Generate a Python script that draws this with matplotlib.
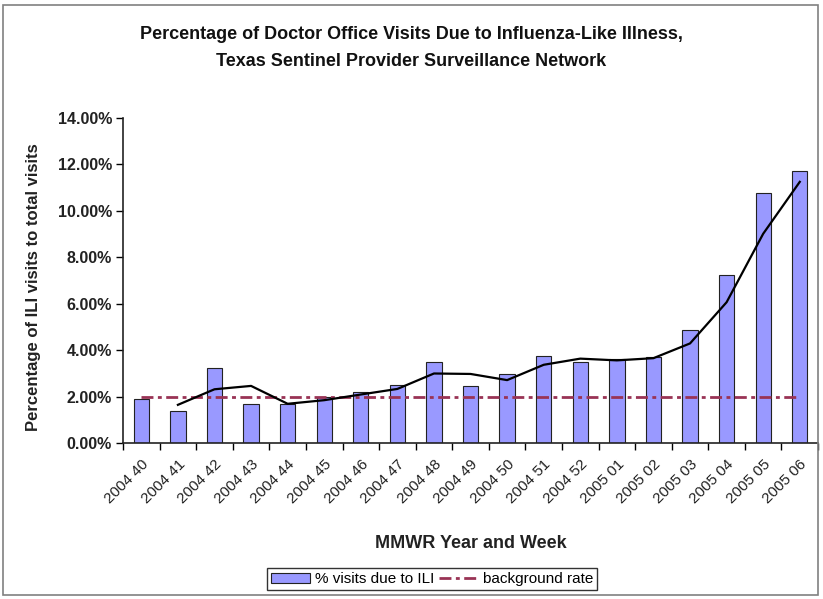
import numpy as np
import matplotlib
matplotlib.use("Agg")
import matplotlib.pyplot as plt
from matplotlib.patches import Rectangle

weeks = ["2004 40", "2004 41", "2004 42", "2004 43", "2004 44", "2004 45", "2004 46",
         "2004 47", "2004 48", "2004 49", "2004 50", "2004 51", "2004 52", "2005 01",
         "2005 02", "2005 03", "2005 04", "2005 05", "2005 06"]
ili_pct = [1.89, 1.40, 3.23, 1.69, 1.69, 2.00, 2.18, 2.48, 3.51, 2.44, 2.98, 3.76,
           3.51, 3.61, 3.70, 4.88, 7.25, 10.78, 11.72]
background_rate = [2.0] * len(weeks)
yticks = [0, 2, 4, 6, 8, 10, 12, 14]

plt.rcParams['font.family'] = ['Liberation Sans', 'DejaVu Sans']

fig = plt.figure(figsize=(8.23, 5.99), dpi=100)
fig.patches.append(Rectangle((0.004, 0.007), 0.99, 0.985, transform=fig.transFigure,
                             fill=False, edgecolor='#808080', lw=1.2))

ax = fig.add_axes([0.1495, 0.2604, 0.8445, 0.5426])
x = np.arange(len(weeks))
bars = ax.bar(x, ili_pct, width=0.42, color='#9999FF', edgecolor='#222222', lw=0.8,
              label='% visits due to ILI', zorder=2)
ma = np.convolve(ili_pct, [0.5, 0.5], mode='valid')
ax.plot(x[1:], ma, color='black', lw=1.6, zorder=4)
bl, = ax.plot(x, background_rate, color='#993355', lw=2.0, dashes=(4.3, 1.6, 1.4, 1.6),
              label='background rate', zorder=3)

ax.set_xlim(-0.5, len(weeks) - 0.5)
ax.set_ylim(0, 14)
ax.set_yticks(yticks)
ax.set_yticklabels([f"{v:.2f}%" for v in yticks], fontsize=11.5,
                   fontweight='bold', color='#222222')
ax.set_xticks(x)
ax.set_xticklabels(weeks, rotation=45, ha='right', rotation_mode='anchor', fontsize=11,
                   color='#222222')
ax.set_xticks(np.arange(-0.5, len(weeks)), minor=True)
ax.tick_params(axis='x', which='major', length=0, pad=10)
ax.tick_params(axis='x', which='minor', length=5, direction='out', width=1)
ax.tick_params(axis='y', length=5, direction='out', width=1, pad=3)
for s in ['top', 'right']:
    ax.spines[s].set_visible(False)
for s in ['left', 'bottom']:
    ax.spines[s].set_linewidth(1.2)
    ax.spines[s].set_color('#222222')

ax.set_ylabel('Percentage of ILI visits to total visits', fontsize=12, fontweight='bold',
              color='#222222', va='center')
ax.yaxis.set_label_coords(-0.1295, 0.48)
ax.set_xlabel('MMWR Year and Week', fontsize=13, fontweight='bold', color='#222222',
              va='center')
ax.xaxis.set_label_coords(0.5, -0.308)
fig.text(0.5, 0.943, 'Percentage of Doctor Office Visits Due to Influenza-Like Illness,',
         ha='center', va='center', fontsize=13, fontweight='bold', color='#111111')
fig.text(0.5, 0.898, 'Texas Sentinel Provider Surveillance Network',
         ha='center', va='center', fontsize=13, fontweight='bold', color='#111111')

leg = fig.legend(handles=[bars, bl], loc='center', bbox_to_anchor=(0.525, 0.033), ncol=2,
                 frameon=True, fancybox=False, edgecolor='black', fontsize=11,
                 handlelength=2.6, handleheight=0.6, columnspacing=0.3, handletextpad=0.3,
                 borderpad=0.25)
leg.get_frame().set_linewidth(1.0)

fig.savefig('out.png', dpi=100)
